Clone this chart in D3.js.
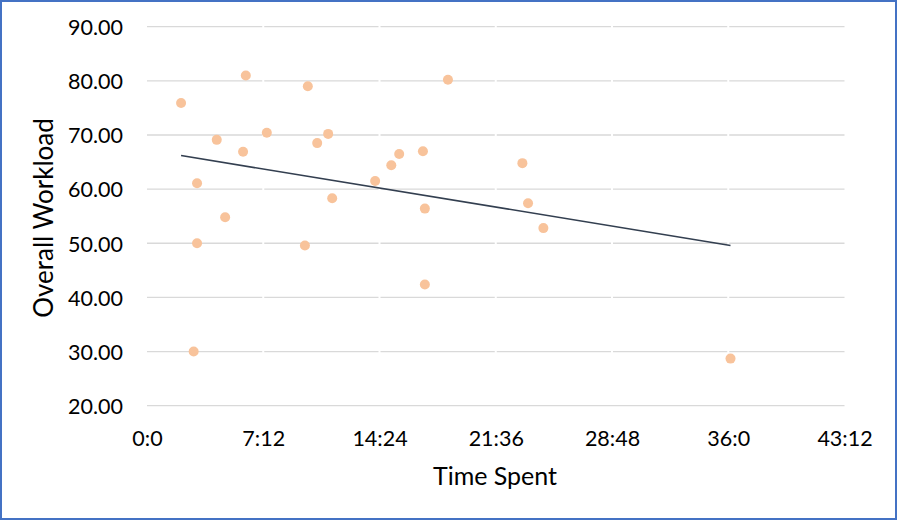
<!DOCTYPE html>
<html>
<head>
<meta charset="utf-8">
<script src="https://cdn.jsdelivr.net/npm/d3@7"></script>
<style>
  html, body { margin: 0; padding: 0; background: #fff; }
  svg { display: block; }
  text { font-family: Lato, "Open Sans", sans-serif; fill: #000; }
</style>
</head>
<body>
<svg id="chart" width="897" height="520"></svg>
<script>
// Time spent (minutes, decimal) and overall workload
const timeSpent = [2.11, 6.12, 4.32, 5.95, 7.42, 3.10, 4.84, 3.10, 2.89,
  9.96, 10.54, 11.22, 11.47, 9.78, 14.13, 15.13, 15.62, 17.09, 17.21, 17.21,
  18.64, 23.25, 23.60, 24.55, 36.14];
const workload = [75.9, 81.0, 69.1, 66.9, 70.4, 61.1, 54.8, 50.0, 30.0,
  79.0, 68.5, 70.2, 58.3, 49.6, 61.5, 64.4, 66.5, 67.0, 56.4, 42.4,
  80.2, 64.8, 57.4, 52.8, 28.7];

// Linear trendline endpoints (as drawn)
const trendX = [2.11, 36.14];
const trendY = [66.2, 49.6];

const xTickValues = [0, 7.2, 14.4, 21.6, 28.8, 36, 43.2];
const xTickLabels = ["0:0", "7:12", "14:24", "21:36", "28:48", "36:0", "43:12"];
const yTickValues = [20, 30, 40, 50, 60, 70, 80, 90];
const yTickLabels = ["20.00", "30.00", "40.00", "50.00", "60.00", "70.00", "80.00", "90.00"];

const xTitle = "Time Spent";
const yTitle = "Overall Workload";

const svg = d3.select("#chart");
const W = 897, H = 520;

const x = d3.scaleLinear().domain([0, 43.2]).range([147, 844.5]);
const y = d3.scaleLinear().domain([20, 90]).range([405.7, 26.7]);

// gridlines
const grid = svg.append("g");
grid.selectAll("line.h").data(yTickValues).join("line")
  .attr("x1", x(0)).attr("x2", x(43.2))
  .attr("y1", d => y(d)).attr("y2", d => y(d))
  .attr("stroke", "#D9D9D9").attr("stroke-width", 1.3);
// small white breaks in gridlines at x ticks
grid.selectAll("line.v").data(xTickValues.slice(1, -1)).join("line")
  .attr("x1", d => x(d)).attr("x2", d => x(d))
  .attr("y1", y(90) - 2).attr("y2", y(30) + 2)
  .attr("stroke", "#fff").attr("stroke-width", 2);

// y axis labels
const yAxis = d3.axisLeft(y).tickValues(yTickValues)
  .tickFormat((d, i) => yTickLabels[i]).tickSize(0).tickPadding(0);
const gy = svg.append("g").attr("transform", "translate(123,0)").call(yAxis);
gy.select(".domain").remove();
gy.selectAll("text").attr("font-size", 21.5).attr("font-family", "Lato, sans-serif").attr("fill", "#000").attr("dy", "0.36em");

// x axis labels
const xAxis = d3.axisBottom(x).tickValues(xTickValues)
  .tickFormat((d, i) => xTickLabels[i]).tickSize(0).tickPadding(0);
const gx = svg.append("g").attr("transform", "translate(0,431)").call(xAxis);
gx.select(".domain").remove();
gx.selectAll("text").attr("font-size", 21.5).attr("font-family", "Lato, sans-serif").attr("fill", "#000").attr("dy", "0.72em");

// points
svg.append("g").selectAll("circle").data(timeSpent.map((t, i) => [t, workload[i]])).join("circle")
  .attr("cx", d => x(d[0])).attr("cy", d => y(d[1])).attr("r", 5)
  .attr("fill", "#F8C39B");

// trendline
svg.append("line")
  .attr("x1", x(trendX[0])).attr("y1", y(trendY[0]))
  .attr("x2", x(trendX[1])).attr("y2", y(trendY[1]))
  .attr("stroke", "#333F50").attr("stroke-width", 1.6);

// axis titles
svg.append("text").attr("x", 495).attr("y", 484.5).attr("text-anchor", "middle")
  .attr("font-size", 25).text(xTitle);
svg.append("text").attr("transform", "translate(53,218) rotate(-90)")
  .attr("text-anchor", "middle").attr("font-size", 26).text(yTitle);

// border
svg.append("rect").attr("x", 1).attr("y", 1).attr("width", W - 2).attr("height", H - 2)
  .attr("fill", "none").attr("stroke", "#4472C4").attr("stroke-width", 2);
</script>
</body>
</html>
